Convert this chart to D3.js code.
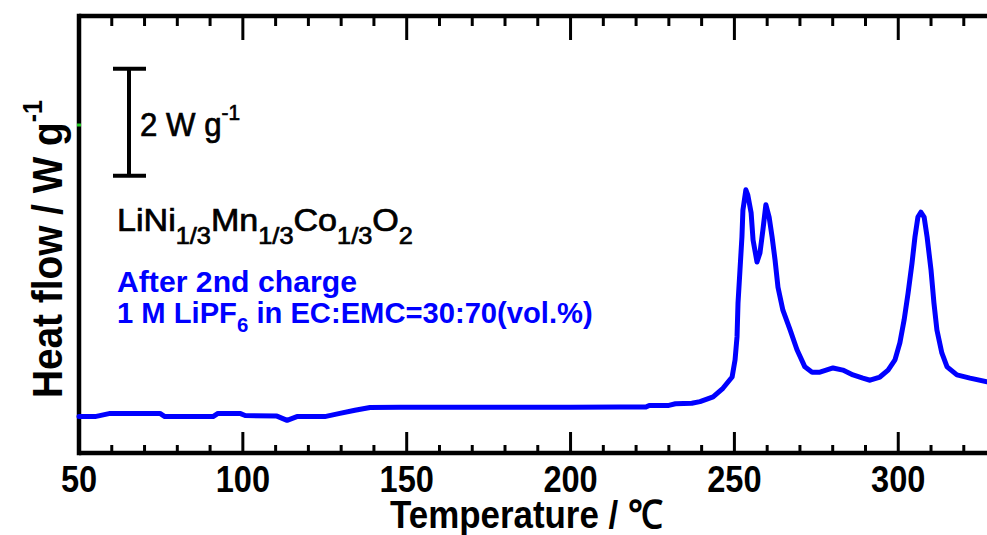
<!DOCTYPE html>
<html><head><meta charset="utf-8">
<script src="https://cdn.jsdelivr.net/npm/d3@7"></script>
<style>html,body{margin:0;padding:0;background:#fff;overflow:hidden}</style>
</head><body>
<svg id="c" width="987" height="535"></svg>
<script>
// ---- data ----
const temperature = [50,54.9,59.5,74.7,76.2,90.9,92.4,99.1,100.7,110.4,113.5,116.5,125,129.6,134.2,138.8,148,178,200,215,223,224,230,232,237,239.5,243.5,246.5,249.3,250.2,250.8,251.1,251.7,252.3,252.6,253.5,254.1,255.1,255.7,256.9,257.8,258.7,259.6,260.6,261.5,262.4,263.3,264.8,267.0,269.1,271.5,273.7,276.1,280.1,283.1,286.2,289.2,291.4,294.4,296.9,299.0,300.5,301.8,303.0,304.2,305.1,306.0,306.9,307.9,308.8,310.0,310.9,311.8,313.3,314.9,317.9,321.9,327.1,330];
const heatFlow = [0.68,0.68,0.74,0.74,0.68,0.68,0.74,0.74,0.70,0.69,0.61,0.68,0.68,0.74,0.80,0.85,0.855,0.855,0.855,0.86,0.86,0.89,0.89,0.92,0.93,0.96,1.05,1.21,1.42,1.74,2.17,2.80,3.42,4.04,4.54,4.92,4.82,4.49,3.98,3.57,3.74,4.17,4.64,4.41,4.04,3.61,3.10,2.67,2.30,1.93,1.61,1.51,1.51,1.59,1.55,1.46,1.40,1.36,1.42,1.55,1.74,2.06,2.49,2.99,3.55,4.04,4.41,4.50,4.41,4.04,3.42,2.80,2.30,1.87,1.61,1.46,1.40,1.33,1.31];
const xMajorTicks = [50,100,150,200,250,300,350];
const xTickLabels = [50,100,150,200,250,300];
const xMinorTicks = d3.range(50,351,10);
const scaleBarValue = 2; // W g-1

// ---- layout ----
const svg = d3.select('#c');
const FONT = '"Liberation Sans", Arial, sans-serif';
const L = 79, T = 16, B = 453;
const x = d3.scaleLinear().domain([50,350]).range([L, L + 300*3.277]);
const y = d3.scaleLinear().domain([0, (B-T)/53.5]).range([B, T]);

// frame
const frame = svg.append('g').attr('stroke','#000').attr('stroke-width',4.5).attr('fill','none');
frame.append('path').attr('d',`M${L},${T}H1100`);
frame.append('path').attr('d',`M${L},${T-2.2}V${B+2.2}`);
frame.append('path').attr('d',`M${L},${B}H1100`);

// ticks
const tk = svg.append('g').attr('stroke','#000').attr('stroke-width',3);
xMinorTicks.forEach(t=>{
  const major = xMajorTicks.includes(t);
  if (t===50) return;
  tk.append('line').attr('x1',x(t)).attr('x2',x(t)).attr('y1',B).attr('y2',B-(major?21:8));
  tk.append('line').attr('x1',x(t)).attr('x2',x(t)).attr('y1',T).attr('y2',T+(major?24:10));
});
// small green mark on left axis
svg.append('rect').attr('x',L-2).attr('y',123.5).attr('width',4).attr('height',3).attr('fill','#22cc22');

xTickLabels.forEach(t=>{
  svg.append('g').attr('transform',`translate(${x(t)},492) scale(0.88,1)`)
    .append('text').attr('text-anchor','middle').attr('font-family',FONT).attr('font-weight','bold')
    .attr('font-size',37).attr('fill','#000').text(t);
});

function fitText(gTransformBase, width, build){
  const g = svg.append('g');
  const t = g.append('text').attr('font-family',FONT);
  build(t);
  const w = t.node().getBBox().width;
  g.attr('transform', gTransformBase + ` scale(${width/w},1)`);
  return g;
}

// x label
fitText('translate(390,528)', 273, t=>{
  t.attr('font-weight','bold').attr('font-size',39).text('Temperature / \u2103');
});
// y label
fitText('translate(62,398) rotate(-90)', 298, t=>{
  t.attr('font-weight','bold').attr('font-size',42);
  t.append('tspan').text('Heat flow / W g');
  t.append('tspan').attr('font-size',27).attr('dy',-20).text('-1');
});

// scale bar
const sb = svg.append('g').attr('stroke','#000').attr('stroke-width',4);
const sbX = 129, sb0 = 5.18;
sb.append('line').attr('x1',sbX).attr('x2',sbX).attr('y1',y(sb0)).attr('y2',y(sb0+scaleBarValue));
sb.append('line').attr('x1',113).attr('x2',146).attr('y1',y(sb0)).attr('y2',y(sb0));
sb.append('line').attr('x1',113).attr('x2',146).attr('y1',y(sb0+scaleBarValue)).attr('y2',y(sb0+scaleBarValue));
fitText('translate(140,136)', 100, t=>{
  t.attr('font-size',33).attr('fill','#000').attr('stroke','#000').attr('stroke-width',0.7);
  t.append('tspan').text('2 W g');
  t.append('tspan').attr('font-size',22).attr('dy',-16).text('-1');
});

// formula
fitText('translate(117,231)', 296, t=>{
  t.attr('font-size',31).attr('fill','#000').attr('stroke','#000').attr('stroke-width',0.7);
  const parts = [['LiNi',0],['1/3',1],['Mn',0],['1/3',1],['Co',0],['1/3',1],['O',0],['2',1]];
  let prev = 0;
  parts.forEach(([s,sub])=>{
    const dy = sub ? 13 : (prev ? -13 : 0);
    t.append('tspan').attr('font-size', sub?23:31).attr('dy',dy).text(s);
    prev = sub;
  });
});
fitText('translate(117,292)', 240, t=>{
  t.attr('font-size',30).attr('font-weight','bold').attr('fill','#0000ff').text('After 2nd charge');
});
fitText('translate(117,323)', 476, t=>{
  t.attr('font-size',30).attr('font-weight','bold').attr('fill','#0000ff');
  t.append('tspan').text('1 M LiPF');
  t.append('tspan').attr('font-size',21).attr('dy',9).text('6');
  t.append('tspan').attr('dy',-9).text(' in EC:EMC=30:70(vol.%)');
});

// curve
const data = temperature.map((t,i)=>({t, v:heatFlow[i]}));
svg.append('path').datum(data)
  .attr('fill','none').attr('stroke','#0000ff').attr('stroke-width',5)
  .attr('stroke-linejoin','round').attr('stroke-linecap','round')
  .attr('d', d3.line().x(d=>x(d.t)).y(d=>y(d.v)));
</script>
</body></html>
